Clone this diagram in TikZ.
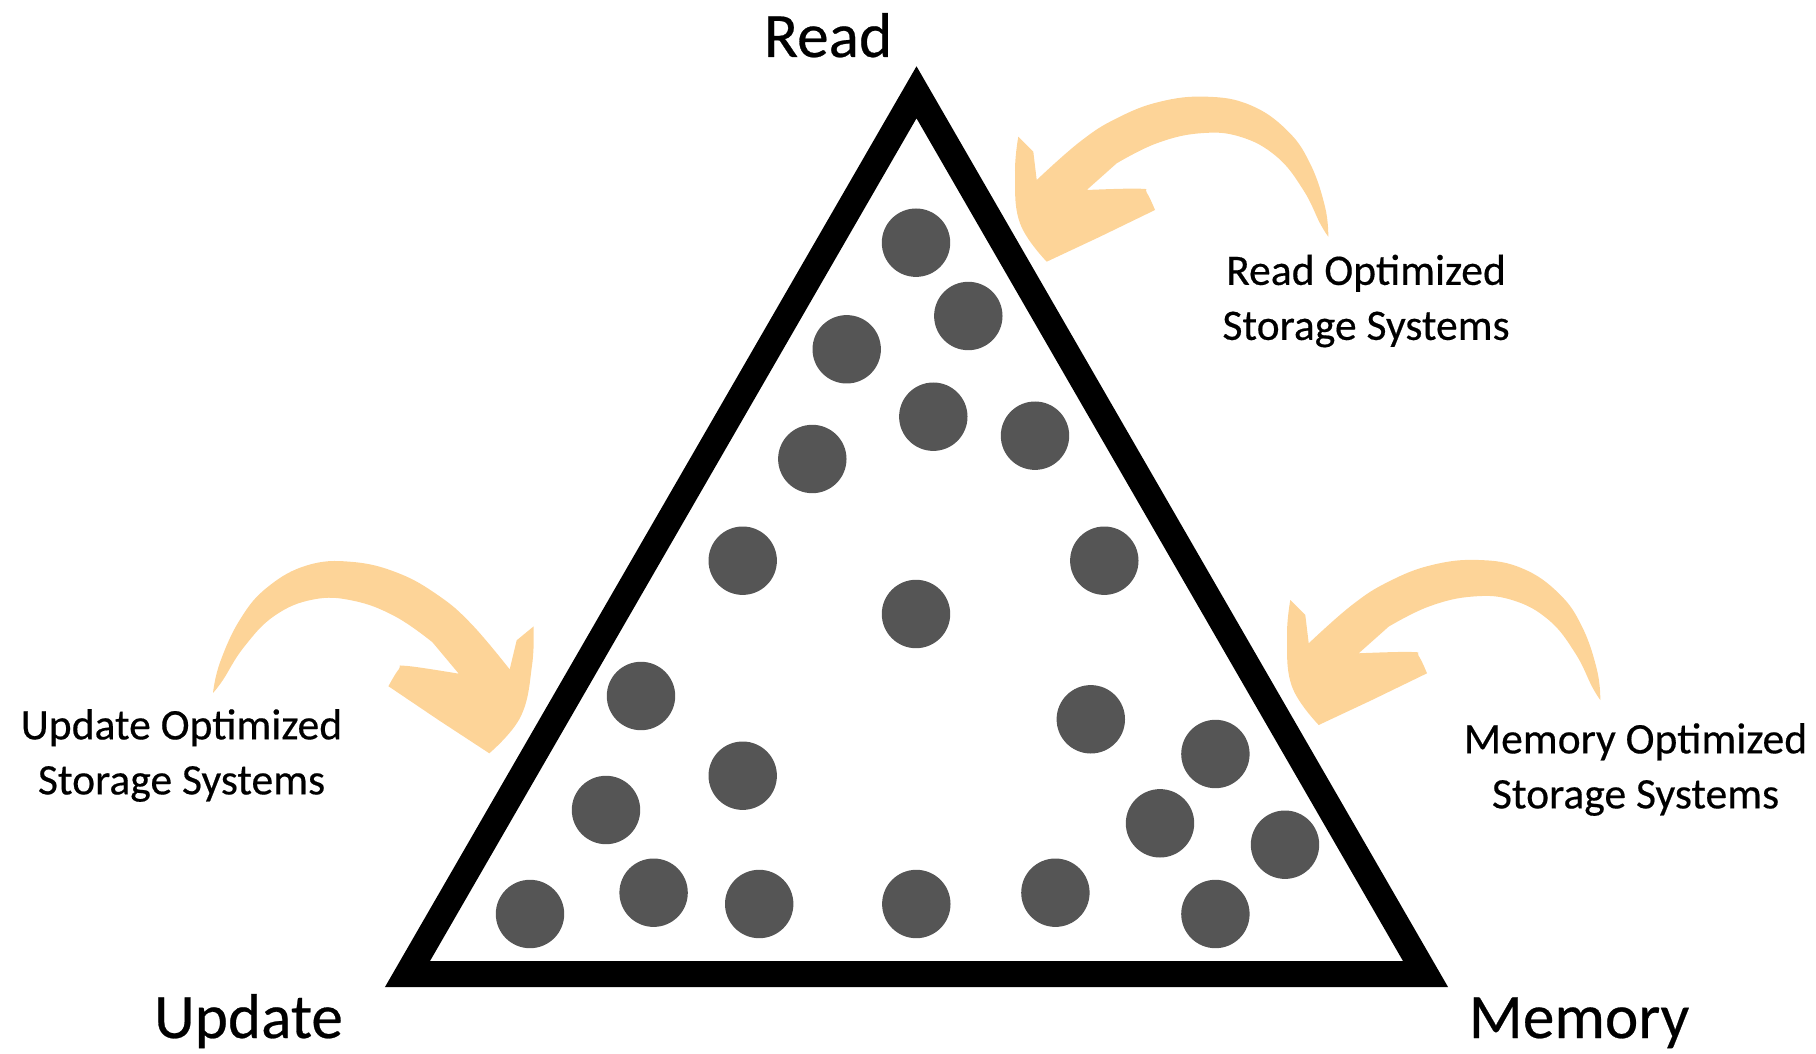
\documentclass[tikz,border=0pt]{standalone}
\usepackage{fontspec}
\setmainfont{Carlito}[FakeBold=0.4]
\usepackage{tikz}
\definecolor{swooshorange}{RGB}{253,212,152}
\definecolor{dotgray}{RGB}{85,85,85}
\def\swoosh[#1](#2){\fill[swooshorange, shift={(#2)}, #1] plot[smooth, tension=0.7] coordinates {(2.816,0.25) (2.783,0.55) (2.633,0.984) (2.40,1.317) (2.033,1.567) (1.60,1.65) (1.133,1.60) (0.70,1.434) (0.333,1.20) (-0.10,0.817)} -- (-0.134,1.10) -- plot[smooth, tension=0.7] coordinates {(-0.284,1.25) (-0.317,0.884) (-0.267,0.384) (0,0)} -- (0.533,0.25) -- plot[smooth, tension=0.7] coordinates {(1.083,0.517) (1.0,0.69) (0.93,0.73) (0.40,0.717)} -- plot[smooth, tension=0.7] coordinates {(0.70,0.984) (1.10,1.184) (1.533,1.284) (1.933,1.25) (2.30,1.05) (2.566,0.717) (2.733,0.384) (2.816,0.25)} -- cycle;}

\begin{document}
\begin{tikzpicture}
			%%%%% START %%%%%
			\useasboundingbox (0, 0) rectangle (18.16, 10.53);
			
			\swoosh[](10.467, 7.913)
			\swoosh[](13.187, 3.28)
			\swoosh[rotate=-7, xscale=-1.0, yscale=1.05](4.893, 2.997)
			
			\fill[dotgray] (9.16, 8.103) circle (0.342);
			\fill[dotgray] (9.683, 7.37) circle (0.342);
			\fill[dotgray] (8.467, 7.037) circle (0.342);
			\fill[dotgray] (9.333, 6.363) circle (0.342);
			\fill[dotgray] (10.35, 6.173) circle (0.342);
			\fill[dotgray] (8.123, 5.94) circle (0.342);
			\fill[dotgray] (7.427, 4.923) circle (0.342);
			\fill[dotgray] (11.043, 4.923) circle (0.342);
			\fill[dotgray] (9.16, 4.39) circle (0.342);
			\fill[dotgray] (6.41, 3.57) circle (0.342);
			\fill[dotgray] (10.908, 3.337) circle (0.342);
			\fill[dotgray] (7.427, 2.773) circle (0.342);
			\fill[dotgray] (12.154, 2.99) circle (0.342);
			\fill[dotgray] (6.06, 2.43) circle (0.342);
			\fill[dotgray] (11.60, 2.297) circle (0.342);
			\fill[dotgray] (12.85, 2.083) circle (0.342);
			\fill[dotgray] (5.30, 1.39) circle (0.342);
			\fill[dotgray] (6.536, 1.603) circle (0.342);
			\fill[dotgray] (7.592, 1.49) circle (0.342);
			\fill[dotgray] (9.163, 1.49) circle (0.342);
			\fill[dotgray] (10.554, 1.603) circle (0.342);
			\fill[dotgray] (12.154, 1.39) circle (0.342);
			
			\draw[line width=0.26cm, line join=miter] (4.075, 0.79) -- (14.255, 0.79) -- (9.165, 9.607) -- cycle;
			
			\node[anchor=base, inner sep=0, font=\fontsize{18}{22}\selectfont] (read) at (8.28, 9.96) {Read};
			\node[anchor=base, inner sep=0, font=\fontsize{18}{22}\selectfont] (update) at (2.485, 0.15) {Update};
			\node[anchor=base, inner sep=0, font=\fontsize{18}{22}\selectfont] (memory) at (15.79, 0.15) {Memory};
			
			\node[inner sep=0, align=center, font=\fontsize{12.4}{15.65}\selectfont] (readopt) at (13.66, 7.52) {Read Optimized\\Storage Systems};
			\node[inner sep=0, align=center, font=\fontsize{12.4}{15.65}\selectfont] (updateopt) at (1.815, 2.975) {Update Optimized\\Storage Systems};
			\node[inner sep=0, align=center, font=\fontsize{12.4}{15.65}\selectfont] (memoryopt) at (16.355, 2.835) {Memory Optimized\\Storage Systems};
			
			%%%%% END %%%%%
\end{tikzpicture}
\end{document}
